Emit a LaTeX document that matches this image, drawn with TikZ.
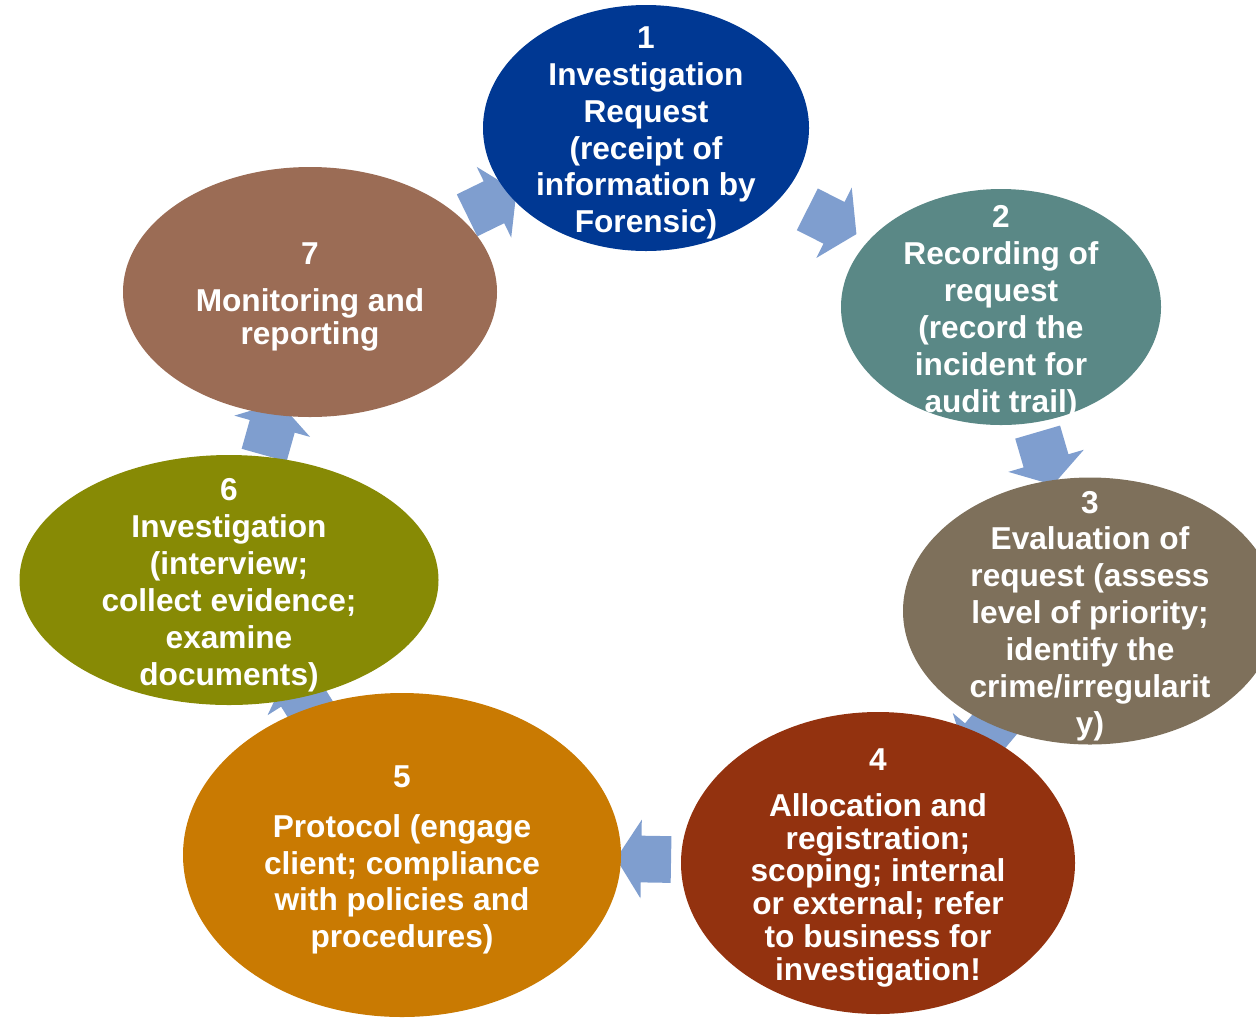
\documentclass[tikz,border=0pt]{standalone}
\usepackage{fontspec}
\setmainfont{Liberation Sans}
\usepackage{xcolor}
\usepackage{tikz}
\usetikzlibrary{shapes.geometric,shapes.arrows,backgrounds}
\pgfdeclarelayer{background}
\pgfsetlayers{background,main}

\definecolor{stepone}{HTML}{003893}
\definecolor{steptwo}{HTML}{5A8886}
\definecolor{stepthree}{HTML}{7E705B}
\definecolor{stepfour}{HTML}{93320F}
\definecolor{stepfive}{HTML}{C97A02}
\definecolor{stepsix}{HTML}{878A05}
\definecolor{stepseven}{HTML}{9B6C55}
\definecolor{flowblue}{HTML}{7F9ECF}

\begin{document}
\begin{tikzpicture}[
  stage/.style={ellipse,inner sep=0pt},
  stagetext/.style={align=center,text=white,inner sep=0pt,yshift=-0.1cm,
                    font=\fontsize{18}{21}\selectfont\bfseries},
  tight/.style={stagetext,font=\fontsize{18}{18.7}\selectfont\bfseries},
  flow/.style={single arrow,fill=flowblue,draw=none,
               inner xsep=0pt,inner ysep=0.46cm,
               minimum height=1.1cm,
               single arrow head extend=0.32cm,single arrow tip angle=115,
               sloped,allow upside down}
]
\useasboundingbox (0,0) rectangle (25.12,-20.34);

% ---- stages ----
\node[stage,fill=stepone,minimum width=6.52cm,minimum height=4.92cm,
  label={[stagetext]center:{1\\Investigation\\Request\\(receipt of\\information by\\Forensic)}}]
  (req) at (12.92,-2.56) {};
\node[stage,fill=steptwo,minimum width=6.40cm,minimum height=4.72cm,
  label={[stagetext]center:{2\\Recording of\\request\\(record the\\incident for\\audit trail)}}]
  (rec) at (20.02,-6.14) {};
\node[stage,fill=stepthree,minimum width=7.48cm,minimum height=5.34cm,
  label={[stagetext]center:{3\\Evaluation of\\request (assess\\level of priority;\\identify the\\crime/irregularit\\y)}}]
  (eval) at (21.80,-12.22) {};
\node[stage,fill=stepfour,minimum width=7.88cm,minimum height=6.04cm,
  label={[tight]center:{4\\[7.3pt]Allocation and\\registration;\\scoping; internal\\or external; refer\\to business for\\investigation!}}]
  (alloc) at (17.56,-17.26) {};
\node[stage,fill=stepfive,minimum width=8.76cm,minimum height=6.48cm,
  label={[stagetext]center:{5\\[7.3pt]Protocol (engage\\client; compliance\\with policies and\\procedures)}}]
  (proto) at (8.04,-17.10) {};
\node[stage,fill=stepsix,minimum width=8.38cm,minimum height=5.00cm,
  label={[stagetext]center:{6\\Investigation\\(interview;\\collect evidence;\\examine\\documents)}}]
  (inv) at (4.58,-11.60) {};
\node[stage,fill=stepseven,minimum width=7.48cm,minimum height=5.00cm,
  label={[tight]center:{7\\[7.9pt]Monitoring and\\reporting}}]
  (mon) at (6.20,-5.84) {};

% ---- cycle arrows ----
\begin{pgfonlayer}{background}
  \path (req)   -- node[flow] (a12) {} (rec);
  \path (rec)   -- node[flow] (a23) {} (eval);
  \path (eval)  -- node[flow] (a34) {} (alloc);
  \path (alloc) -- node[flow] (a45) {} (proto);
  \path (proto) -- node[flow] (a56) {} (inv);
  \path (inv)   -- node[flow] (a67) {} (mon);
  \path (mon)   -- node[flow] (a71) {} (req);
\end{pgfonlayer}

\end{tikzpicture}
\end{document}
